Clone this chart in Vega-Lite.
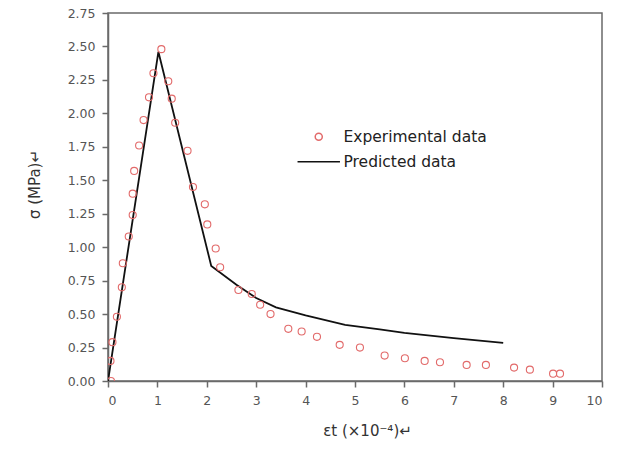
{
  "$schema": "https://vega.github.io/schema/vega-lite/v6.json",
  "width": 494,
  "height": 368,
  "autosize": {"type": "none"},
  "padding": {"left": 108, "top": 13, "right": 22, "bottom": 68},
  "background": "white",
  "config": {
    "view": {"stroke": "#6a6a6a", "strokeWidth": 1.5},
    "font": "DejaVu Sans",
    "axis": {
      "domainColor": "#6a6a6a",
      "domainWidth": 1.5,
      "tickColor": "#6a6a6a",
      "tickWidth": 1.5,
      "tickSize": 6,
      "grid": false,
      "labelFont": "DejaVu Sans",
      "labelFontSize": 12.5,
      "labelColor": "#555555",
      "titleFont": "DejaVu Sans",
      "titleFontSize": 15,
      "titleFontWeight": "normal",
      "titleColor": "#333333"
    }
  },
  "datasets": {
    "exp": [
      {"x": 0.06, "y": 0.0, "series": "Experimental data"},
      {"x": 0.05, "y": 0.15, "series": "Experimental data"},
      {"x": 0.09, "y": 0.29, "series": "Experimental data"},
      {"x": 0.18, "y": 0.48, "series": "Experimental data"},
      {"x": 0.28, "y": 0.70, "series": "Experimental data"},
      {"x": 0.30, "y": 0.88, "series": "Experimental data"},
      {"x": 0.42, "y": 1.08, "series": "Experimental data"},
      {"x": 0.50, "y": 1.24, "series": "Experimental data"},
      {"x": 0.50, "y": 1.40, "series": "Experimental data"},
      {"x": 0.53, "y": 1.57, "series": "Experimental data"},
      {"x": 0.63, "y": 1.76, "series": "Experimental data"},
      {"x": 0.72, "y": 1.95, "series": "Experimental data"},
      {"x": 0.83, "y": 2.12, "series": "Experimental data"},
      {"x": 0.92, "y": 2.30, "series": "Experimental data"},
      {"x": 1.08, "y": 2.48, "series": "Experimental data"},
      {"x": 1.22, "y": 2.24, "series": "Experimental data"},
      {"x": 1.29, "y": 2.11, "series": "Experimental data"},
      {"x": 1.36, "y": 1.93, "series": "Experimental data"},
      {"x": 1.61, "y": 1.72, "series": "Experimental data"},
      {"x": 1.72, "y": 1.45, "series": "Experimental data"},
      {"x": 1.96, "y": 1.32, "series": "Experimental data"},
      {"x": 2.01, "y": 1.17, "series": "Experimental data"},
      {"x": 2.18, "y": 0.99, "series": "Experimental data"},
      {"x": 2.27, "y": 0.85, "series": "Experimental data"},
      {"x": 2.64, "y": 0.68, "series": "Experimental data"},
      {"x": 2.91, "y": 0.65, "series": "Experimental data"},
      {"x": 3.08, "y": 0.57, "series": "Experimental data"},
      {"x": 3.29, "y": 0.50, "series": "Experimental data"},
      {"x": 3.65, "y": 0.39, "series": "Experimental data"},
      {"x": 3.92, "y": 0.37, "series": "Experimental data"},
      {"x": 4.23, "y": 0.33, "series": "Experimental data"},
      {"x": 4.69, "y": 0.27, "series": "Experimental data"},
      {"x": 5.10, "y": 0.25, "series": "Experimental data"},
      {"x": 5.60, "y": 0.19, "series": "Experimental data"},
      {"x": 6.01, "y": 0.17, "series": "Experimental data"},
      {"x": 6.41, "y": 0.15, "series": "Experimental data"},
      {"x": 6.72, "y": 0.14, "series": "Experimental data"},
      {"x": 7.26, "y": 0.12, "series": "Experimental data"},
      {"x": 7.65, "y": 0.12, "series": "Experimental data"},
      {"x": 8.22, "y": 0.10, "series": "Experimental data"},
      {"x": 8.54, "y": 0.085, "series": "Experimental data"},
      {"x": 9.01, "y": 0.055, "series": "Experimental data"},
      {"x": 9.15, "y": 0.055, "series": "Experimental data"}
    ],
    "pred": [
      {"x": 0.0, "y": 0.0, "series": "Predicted data"},
      {"x": 1.02, "y": 2.46, "series": "Predicted data"},
      {"x": 2.09, "y": 0.86, "series": "Predicted data"},
      {"x": 2.6, "y": 0.72, "series": "Predicted data"},
      {"x": 3.0, "y": 0.62, "series": "Predicted data"},
      {"x": 3.4, "y": 0.55, "series": "Predicted data"},
      {"x": 4.0, "y": 0.49, "series": "Predicted data"},
      {"x": 4.8, "y": 0.42, "series": "Predicted data"},
      {"x": 5.5, "y": 0.385, "series": "Predicted data"},
      {"x": 6.0, "y": 0.36, "series": "Predicted data"},
      {"x": 7.0, "y": 0.32, "series": "Predicted data"},
      {"x": 8.0, "y": 0.285, "series": "Predicted data"}
    ]
  },
  "encoding": {
    "x": {
      "field": "x", "type": "quantitative",
      "scale": {"domain": [0, 10], "nice": false, "zero": false},
      "axis": {
        "values": [0, 1, 2, 3, 4, 5, 6, 7, 8, 9, 10],
        "format": "d",
        "labelPadding": 7,
        "title": "εt (×10⁻⁴)↵",
        "titleX": 259,
        "titleY": 49,
        "titleBaseline": "middle",
        "titleAlign": "center"
      }
    },
    "y": {
      "field": "y", "type": "quantitative",
      "scale": {"domain": [0, 2.75], "nice": false, "zero": false},
      "axis": {
        "values": [0, 0.25, 0.5, 0.75, 1.0, 1.25, 1.5, 1.75, 2.0, 2.25, 2.5, 2.75],
        "format": ".2f",
        "labelPadding": 7,
        "title": "σ (MPa)↵",
        "titleX": -74,
        "titleY": 171,
        "titleBaseline": "middle",
        "titleAlign": "center",
        "titleAngle": -90
      }
    },
    "color": {
      "field": "series", "type": "nominal",
      "scale": {"domain": ["Experimental data", "Predicted data"], "range": ["#e26a6a", "#111111"]},
      "legend": {
        "title": null,
        "orient": "none",
        "legendX": 203,
        "legendY": 116,
        "padding": 0,
        "labelFont": "DejaVu Sans",
        "labelFontSize": 15.5,
        "labelColor": "#222222",
        "labelOffset": 17,
        "rowPadding": 8,
        "symbolSize": 50,
        "symbolStrokeWidth": 1.5,
        "symbolFillColor": "transparent"
      }
    }
  },
  "layer": [
    {
      "data": {"name": "pred"},
      "mark": {"type": "line", "strokeWidth": 1.8, "clip": true},
      "encoding": {}
    },
    {
      "data": {"name": "exp"},
      "mark": {"type": "point", "filled": false, "size": 50, "strokeWidth": 1.1, "clip": true, "opacity": 1},
      "encoding": {
        "shape": {
          "field": "series", "type": "nominal",
          "scale": {"domain": ["Experimental data", "Predicted data"], "range": ["circle", "M -6 0 L 6 0"]},
          "legend": {
            "title": null,
            "orient": "none",
            "legendX": 203,
            "legendY": 116,
            "padding": 0,
            "labelFont": "DejaVu Sans",
            "labelFontSize": 15.5,
            "labelColor": "#222222",
            "labelOffset": 17,
            "rowPadding": 8,
            "symbolSize": 50,
            "symbolStrokeWidth": 1.5,
            "symbolFillColor": "transparent"
          }
        }
      }
    }
  ]
}
